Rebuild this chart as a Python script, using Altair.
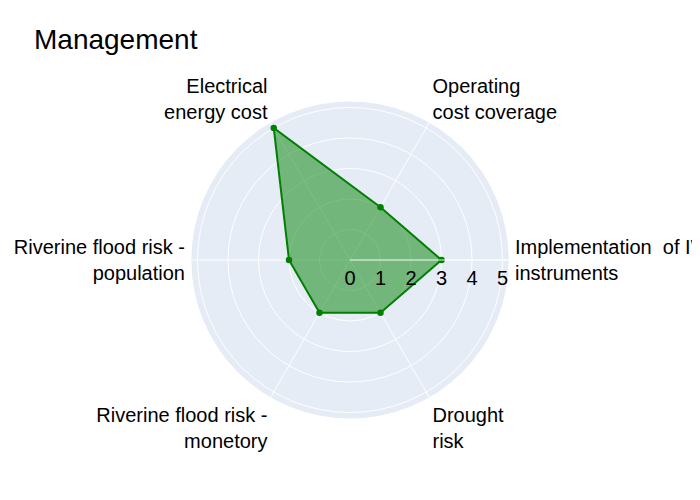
import math
import pandas as pd
import altair as alt

# ---------------- data ----------------
title_text = "Management"
categories = [
    "Implementation \u00a0of IWRM\ninstruments",
    "Operating\ncost coverage",
    "Electrical\nenergy cost",
    "Riverine flood risk -\npopulation",
    "Riverine flood risk -\nmonetory",
    "Drought\nrisk",
]
values = [3, 2, 5, 2, 2, 2]
radial_ticks = [0, 1, 2, 3, 4, 5]
radial_max = 5.2

# ---------------- layout ----------------
W, H = 684, 484          # whole canvas (autosize none, no padding)
PX = 30.5                # pixels per radial unit
CX, CY = 342, 252        # polar centre inside the canvas
LABEL_R = 5.41           # radius of angular labels (radial units)
FONT = "Arial, Liberation Sans, sans-serif"
FS = 20
LH = 26
BG = "#E5ECF6"
GREEN = "green"

xs = alt.Scale(domain=[-CX / PX, (W - CX) / PX], nice=False, zero=False)
ys = alt.Scale(domain=[-(H - CY) / PX, CY / PX], nice=False, zero=False)
rs = alt.Scale(type="linear", domain=[0, radial_max], range=[0, radial_max * PX], zero=True, nice=False)

n = len(categories)
cat_df = pd.DataFrame({"category": categories, "value": values, "idx": list(range(n))})
closed_df = pd.concat([cat_df, cat_df.iloc[[0]].assign(idx=n)], ignore_index=True)
tick_df = pd.DataFrame({"t": radial_ticks})
max_df = pd.DataFrame({"r": [radial_max]})

ang = f"datum.idx * 2 * PI / {n}"


def X(f):
    return alt.X(f, type="quantitative", scale=xs, axis=None)


def Y(f):
    return alt.Y(f, type="quantitative", scale=ys, axis=None)


def Xd(v):
    return alt.X(datum=v, type="quantitative", scale=xs, axis=None)


def Yd(v):
    return alt.Y(datum=v, type="quantitative", scale=ys, axis=None)


TAU = 2 * math.pi

# background disk
disk = alt.Chart(max_df).mark_arc(color=BG, theta=0, theta2=TAU).encode(
    x=Xd(0), y=Yd(0), radius=alt.Radius("r:Q", scale=rs, stack=None)
)

# gridline rings
rings = alt.Chart(tick_df).transform_filter("datum.t > 0").mark_arc(
    filled=False, stroke="white", strokeWidth=1, theta=0, theta2=TAU
).encode(x=Xd(0), y=Yd(0), radius=alt.Radius("t:Q", scale=rs, stack=None))

# spokes
spokes = alt.Chart(cat_df).transform_calculate(
    a=ang, z="0", ex=f"{radial_max} * cos(datum.a)", ey=f"{radial_max} * sin(datum.a)"
).mark_rule(color="white", strokeWidth=1).encode(
    x=X("z"), y=Y("z"), x2="ex:Q", y2="ey:Q"
)

base = alt.Chart(closed_df).transform_calculate(
    a=ang, px="datum.value * cos(datum.a)", py="datum.value * sin(datum.a)"
)

poly = base.mark_line(
    fill=GREEN, fillOpacity=0.5, stroke=GREEN, strokeWidth=2, interpolate="linear"
).encode(x=X("px"), y=Y("py"), order=alt.Order("idx:Q"))

dots = base.transform_filter(f"datum.idx < {n}").mark_circle(
    color=GREEN, size=42, opacity=1
).encode(x=X("px"), y=Y("py"))

# radial axis line (above traces)
raxis = alt.Chart(max_df).transform_calculate(z="0").mark_rule(
    color="white", strokeWidth=1.5, opacity=0.6
).encode(x=X("z"), x2="r:Q", y=Yd(0))

# radial tick labels
rticks = alt.Chart(tick_df).mark_text(
    align="center", baseline="alphabetic", dy=25, fontSize=FS, font=FONT, color="black"
).encode(x=X("t"), y=Yd(0), text=alt.Text("t:Q"))

# angular labels (two-line labels: shift block manually)
lab_base = alt.Chart(cat_df).transform_calculate(
    a=ang,
    ca="cos(datum.a)",
    sa="sin(datum.a)",
    lx=f"{LABEL_R} * datum.ca",
    ly=f"{LABEL_R} * datum.sa",
)
label_layers = []
for align, cond_a in [("left", "datum.ca > 0.1"), ("right", "datum.ca < -0.1"), ("center", "abs(datum.ca) <= 0.1")]:
    for baseline, cond_b, shift in [
        ("bottom", "datum.sa > 0.1", -LH + 6),
        ("top", "datum.sa < -0.1", 3),
        ("middle", "abs(datum.sa) <= 0.1", -LH / 2 + 1),
    ]:
        label_layers.append(
            lab_base.transform_filter(f"({cond_a}) && ({cond_b})").mark_text(
                align=align, baseline=baseline, lineBreak="\n", lineHeight=LH,
                fontSize=FS, font=FONT, color="black", dy=shift
            ).encode(x=X("lx"), y=Y("ly"), text="category:N")
        )

title = alt.Chart(pd.DataFrame({"t": [title_text]})).mark_text(
    align="left", baseline="alphabetic", fontSize=28, font=FONT, color="black"
).encode(x=alt.value(26), y=alt.value(41), text="t:N")

chart = alt.layer(
    disk, rings, spokes, poly, dots, raxis, rticks, *label_layers, title
).properties(
    width=W, height=H, autosize=alt.AutoSizeParams(type="none"), padding=0,
    background="white",
).configure_view(stroke=None)

chart.save("out.html", embed_options={"renderer": "svg", "actions": False})
